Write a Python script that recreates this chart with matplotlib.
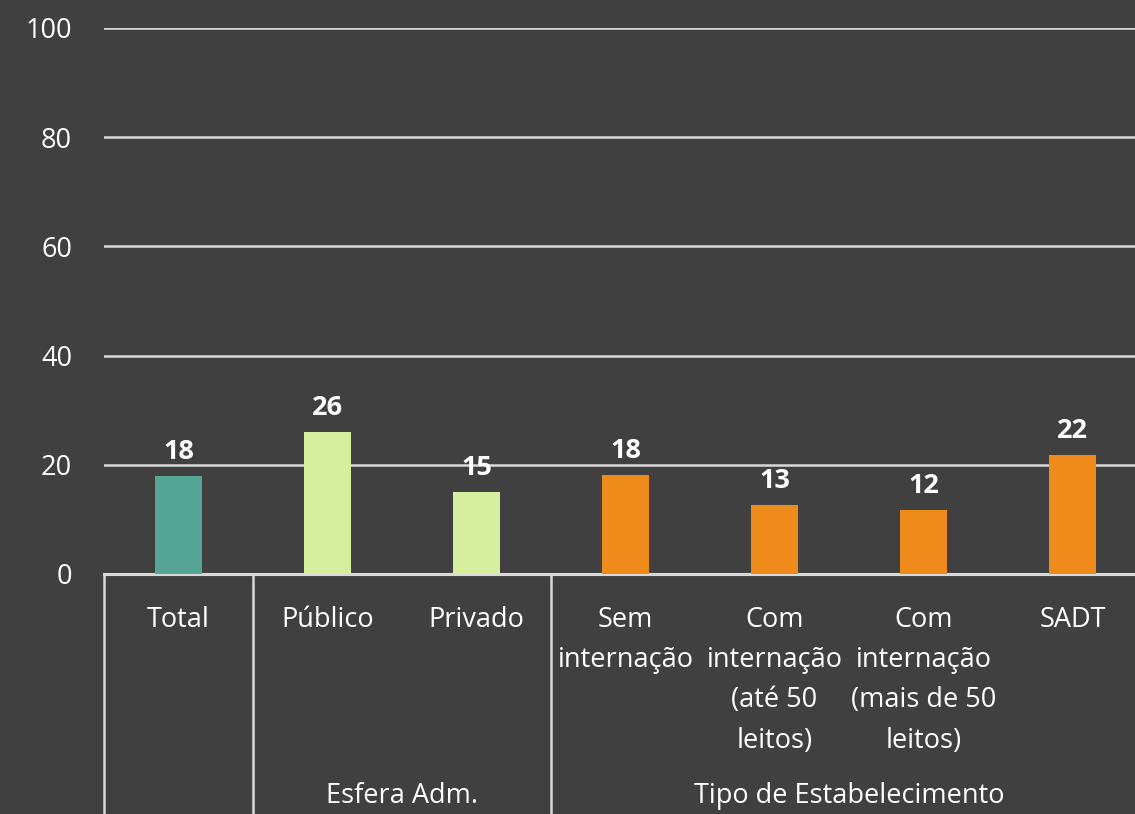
import matplotlib
matplotlib.use("Agg")
import matplotlib.pyplot as plt
import matplotlib.transforms as mtransforms

# data
categories = ["Total", "Público", "Privado", "Sem\ninternação",
              "Com\ninternação\n(até 50\nleitos)", "Com\ninternação\n(mais de 50\nleitos)", "SADT"]
values = [18, 26, 15, 18.1, 12.6, 11.7, 21.8]
labels = ["18", "26", "15", "18", "13", "12", "22"]
groups = ["", "Esfera Adm.", "Tipo de Estabelecimento"]
group_spans = [(0, 0), (1, 2), (3, 6)]
colors = ["#55A695", "#D5EF9F", "#D5EF9F", "#EE8B1B", "#EE8B1B", "#EE8B1B", "#EE8B1B"]

BG = "#404040"
FG = "#FFFFFF"
LINE = "#D9D9D9"
FS = 19.5
plt.rcParams['font.family'] = ['Open Sans', 'DejaVu Sans']

W, H = 1135, 814
fig = plt.figure(figsize=(W / 100, H / 100), dpi=100, facecolor=BG)
# plot area runs a little past the right edge of the picture, as in the reference
left, right, top, bottom = 104, 1147, 28, 574
ax = fig.add_axes([left / W, (H - bottom) / H, (right - left) / W, (bottom - top) / H])
ax.set_facecolor(BG)

x = list(range(len(categories)))
ax.bar(x, values, width=0.315, color=colors, zorder=3)
for xi, v, lab in zip(x, values, labels):
    ax.annotate(lab, (xi, v), xytext=(0, 8), textcoords="offset points",
                ha="center", va="bottom", color=FG, fontsize=FS, fontweight="bold", zorder=4)

ax.set_xlim(-0.5, len(categories) - 0.5)
ax.set_ylim(0, 100)
ax.set_yticks([0, 20, 40, 60, 80, 100])
ax.yaxis.grid(True, color=LINE, linewidth=1.8, zorder=1)
ax.set_axisbelow(True)
ax.tick_params(axis="y", length=0, pad=23, labelsize=FS, labelcolor=FG)
ax.set_xticks([])
for s in ax.spines.values():
    s.set_visible(False)
ax.axhline(0, color=LINE, linewidth=2.2, zorder=2, clip_on=False)

# multi-level category axis
trans = mtransforms.blended_transform_factory(ax.transData, ax.transAxes)
px = 1.0 / (bottom - top)  # one pixel in axes units
bottom_axes = -(H - bottom) * px
for xi, cat in zip(x, categories):
    ax.text(xi, -32 * px, cat, transform=trans, ha="center", va="top", color=FG,
            fontsize=FS, linespacing=1.58, clip_on=False)
for (a, b), g in zip(group_spans, groups):
    ax.plot([a - 0.5, a - 0.5], [0, bottom_axes], transform=trans, color=LINE,
            linewidth=1.8, clip_on=False)
    if g:
        ax.text((a + b) / 2, -222 * px, g, transform=trans, ha="center", va="center",
                color=FG, fontsize=FS, clip_on=False)

fig.savefig("out.png", dpi=100, facecolor=BG)
